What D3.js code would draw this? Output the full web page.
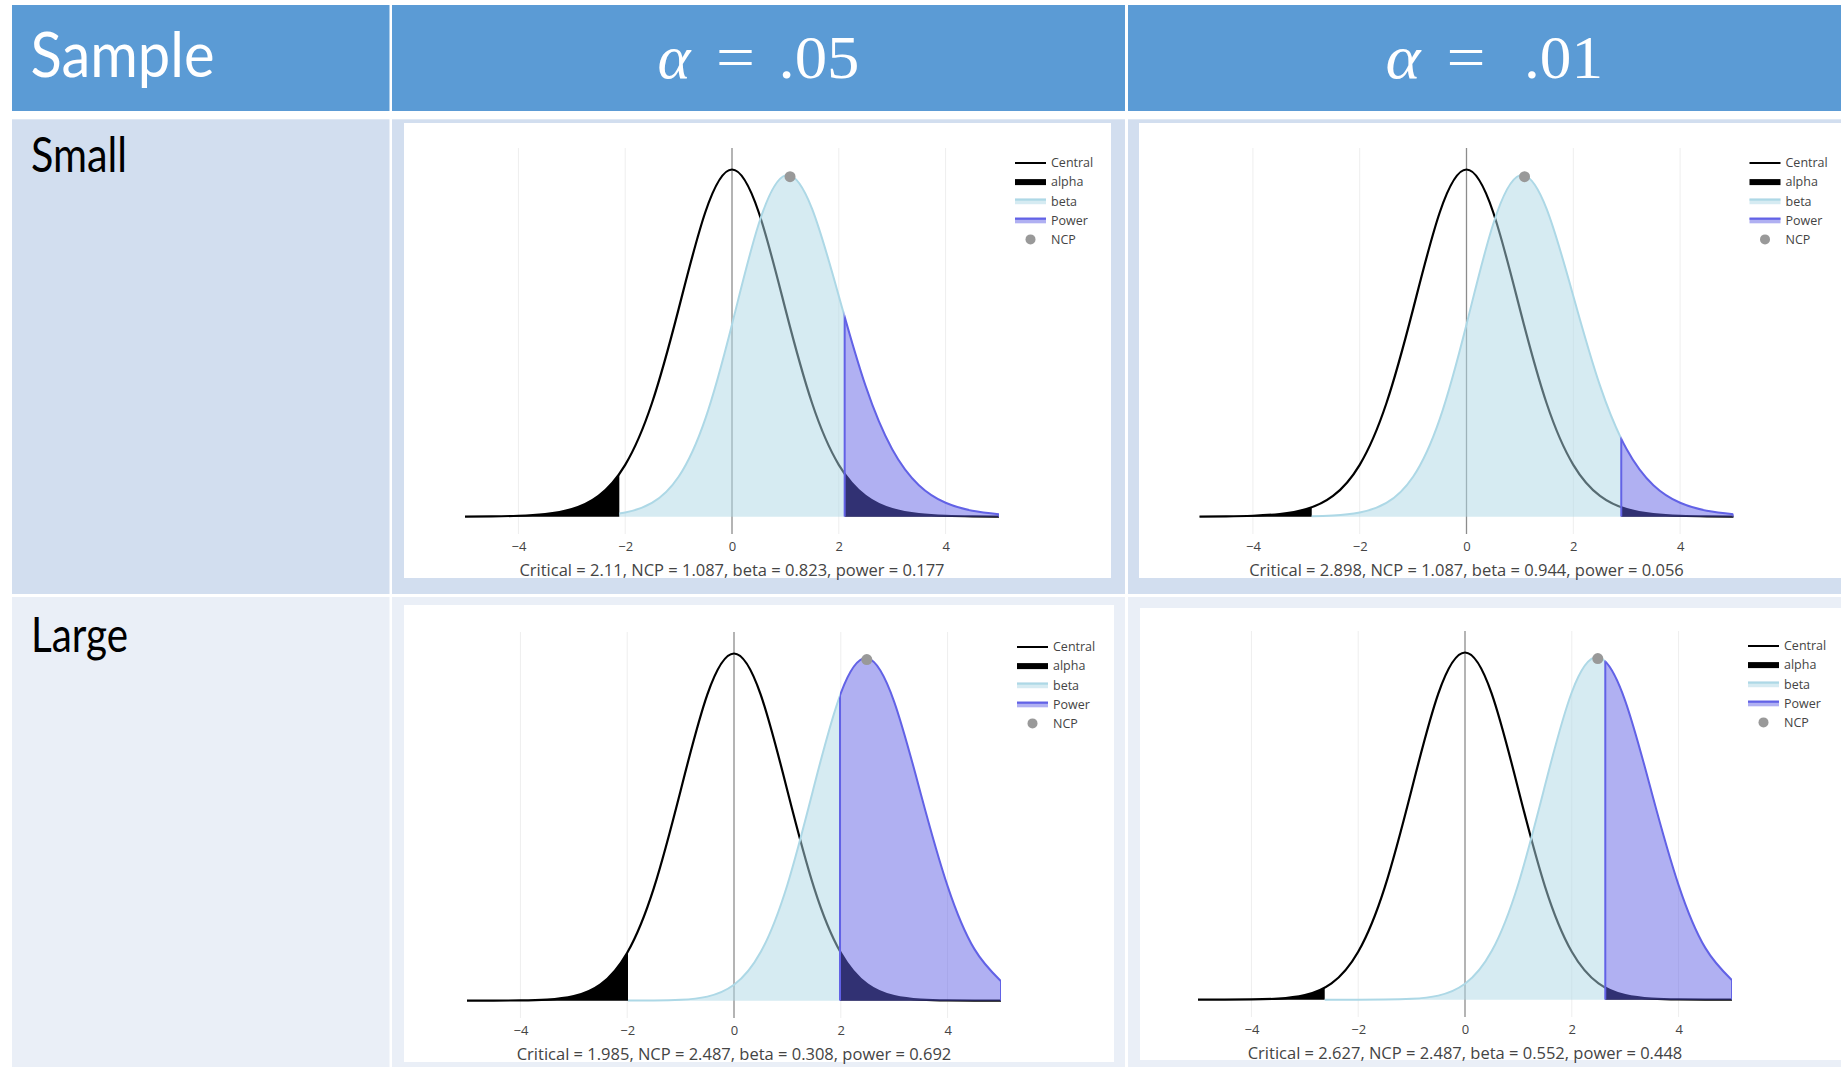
<!DOCTYPE html>
<html>
<head>
<meta charset="utf-8">
<script src="https://cdn.jsdelivr.net/npm/d3@7"></script>
<style>
  html, body { margin: 0; padding: 0; background: #fff; }
  svg { display: block; }
</style>
</head>
<body>
<div id="slide"></div>
<script>
// values (t statistic on x, density on y)

var tGrid = [-5, -4.5, -4, -3.5, -3, -2.5, -2, -1.5, -1, -0.5, 0,
             0.5, 1, 1.5, 2, 2.5, 3, 3.5, 4, 4.5, 5]

// small sample (top row)
var centralSmall = [0.00011, 0.00034, 0.00100, 0.00298, 0.00859, 0.0235, 0.0587, 0.1284, 0.2350, 0.3447, 0.3931,
                    0.3447, 0.2350, 0.1284, 0.0587, 0.0235, 0.00859, 0.00298, 0.00100, 0.00034, 0.00011]
var noncentralSmall = [0, 0.00001, 0.00004, 0.00012, 0.00039, 0.00137, 0.00475, 0.01554, 0.04524, 0.1108, 0.2177,
                       0.3314, 0.3865, 0.3485, 0.2499, 0.1483, 0.0763, 0.0356, 0.0157, 0.0067, 0.0028]

// large sample (bottom row)
var centralLarge = [0.00001, 0.00004, 0.00022, 0.00117, 0.00514, 0.0186, 0.0548, 0.1290, 0.2401, 0.3499, 0.3969,
                    0.3499, 0.2401, 0.1290, 0.0548, 0.0186, 0.00514, 0.00117, 0.00022, 0.00004, 0.00001]
var noncentralLarge = [0, 0, 0, 0, 0, 0, 0.00002, 0.00015, 0.00093, 0.0046, 0.0181,
                       0.0555, 0.1326, 0.2454, 0.3515, 0.3915, 0.3417, 0.2361, 0.1310, 0.0592, 0.0222]

var sampleLabels = ['Small', 'Large']
var alphaLabels = ['.05', '.01']
var criticals = [[2.11, 2.898], [1.985, 2.627]]   // [row][col]
var ncps = [1.087, 2.487]
var ncpHeights = [0.385, 0.39]
var betas = [[0.823, 0.944], [0.308, 0.552]]
var powers = [[0.177, 0.056], [0.692, 0.448]]
var xTicks = [-4, -2, 0, 2, 4]
var legendLabels = ['Central', 'alpha', 'beta', 'Power', 'NCP']

var W = 1841, H = 1067

var svg = d3.select('#slide')
  .append('svg')
  .attr('width', W)
  .attr('height', H)

// ---- the powerpoint table behind the plots ----
var cols = [[12, 389.5], [392, 1125], [1128, 1841]]
var rows = [
  {y0: 5, y1: 111, fill: '#5B9BD5'},
  {y0: 119.3, y1: 594, fill: '#D2DEEF'},
  {y0: 597, y1: 1067, fill: '#EAEFF7'}
]

rows.forEach(function (r) {
  svg.selectAll(null)
    .data(cols)
    .enter()
    .append('rect')
    .attr('x', function (c) { return c[0] })
    .attr('y', r.y0)
    .attr('width', function (c) { return c[1] - c[0] })
    .attr('height', r.y1 - r.y0)
    .attr('fill', r.fill)
})

// header texts
svg.append('text')
  .attr('x', 30.5).attr('y', 76.5)
  .attr('font-family', 'Lato, sans-serif')
  .attr('font-size', 62)
  .attr('fill', '#fff')
  .attr('textLength', 184)
  .attr('lengthAdjust', 'spacingAndGlyphs')
  .text('Sample')

// alpha headers, pieces placed like the equation object
var alphaPieces = [
  [{t: 'α', x: 657.5, w: 33, it: true}, {t: '=', x: 716, w: 39}, {t: alphaLabels[0], x: 778.5, w: 81}],
  [{t: 'α', x: 1385.5, w: 35, it: true}, {t: '=', x: 1446.5, w: 39}, {t: alphaLabels[1], x: 1524, w: 79}]
]
alphaPieces.forEach(function (pieces) {
  pieces.forEach(function (pc) {
    svg.append('text')
      .attr('x', pc.x).attr('y', 77.5)
      .attr('font-family', '"Liberation Serif", "DejaVu Serif", serif')
      .attr('font-style', pc.it ? 'italic' : 'normal')
      .attr('font-size', 62)
      .attr('fill', '#fff')
      .attr('textLength', pc.w)
      .attr('lengthAdjust', 'spacingAndGlyphs')
      .text(pc.t)
  })
})

// row labels
var rowLabelY = [171.7, 651.7]
sampleLabels.forEach(function (lab, i) {
  svg.append('text')
    .attr('x', 31).attr('y', rowLabelY[i])
    .attr('font-family', 'Lato, sans-serif')
    .attr('font-size', 48)
    .attr('fill', '#000')
    .attr('textLength', i === 0 ? 96 : 97)
    .attr('lengthAdjust', 'spacingAndGlyphs')
    .text(lab)
})

// ---- the four plot images ----
var panels = [
  {row: 0, col: 0, img: [404, 123, 707, 455], plotLeft: 465, plotTop: 148},
  {row: 0, col: 1, img: [1139, 123, 710, 455], plotLeft: 1199.5, plotTop: 148},
  {row: 1, col: 0, img: [404, 605, 710, 457], plotLeft: 467, plotTop: 632},
  {row: 1, col: 1, img: [1140, 608, 710, 452], plotLeft: 1198, plotTop: 631}
]
var plotW = 534, plotH = 386

var textFont = '"Open Sans", sans-serif'
var betaColor = 'lightblue'
var powerColor = '#6262e6'

panels.forEach(function (p, i) {
  var r = p.row, c = p.col
  var central = r === 0 ? centralSmall : centralLarge
  var nc = r === 0 ? noncentralSmall : noncentralLarge
  var crit = criticals[r][c]
  var id = 'pn' + i

  var g = svg.append('g')

  g.append('rect')
    .attr('x', p.img[0]).attr('y', p.img[1])
    .attr('width', p.img[2]).attr('height', p.img[3])
    .attr('fill', '#fff')

  var ymax = d3.max(central.concat(nc))
  var x = d3.scaleLinear().domain([-5, 5]).range([p.plotLeft, p.plotLeft + plotW])
  var y = d3.scaleLinear().domain([-0.05 * ymax, 1.062 * ymax]).range([p.plotTop + plotH, p.plotTop])

  var area = d3.area()
    .x(function (d, j) { return x(tGrid[j]) })
    .y0(y(0))
    .y1(function (d) { return y(Math.max(d, 0)) })
    .curve(d3.curveNatural)

  var line = d3.line()
    .x(function (d, j) { return x(tGrid[j]) })
    .y(function (d) { return y(d) })
    .curve(d3.curveNatural)

  // clip regions: both tails, the middle, the right side, and under the shifted curve
  var defs = g.append('defs')
  var tails = defs.append('clipPath').attr('id', id + 'tails')
  tails.append('rect')
    .attr('x', x(-5) - 3).attr('y', p.plotTop - 5)
    .attr('width', x(-crit) - x(-5) + 3).attr('height', plotH + 10)
  tails.append('rect')
    .attr('x', x(crit)).attr('y', p.plotTop - 5)
    .attr('width', x(5) - x(crit) + 3).attr('height', plotH + 10)
  defs.append('clipPath').attr('id', id + 'mid')
    .append('rect')
    .attr('x', x(-crit)).attr('y', p.plotTop - 5)
    .attr('width', x(crit) - x(-crit)).attr('height', plotH + 10)
  defs.append('clipPath').attr('id', id + 'right')
    .append('rect')
    .attr('x', x(crit)).attr('y', p.plotTop - 5)
    .attr('width', x(5) - x(crit)).attr('height', plotH + 10)
  defs.append('clipPath').attr('id', id + 'under')
    .append('path')
    .attr('d', area(nc))

  // grid
  g.selectAll('.grid')
    .data(xTicks.filter(function (t) { return t !== 0 }))
    .enter()
    .append('line')
    .attr('x1', function (t) { return x(t) })
    .attr('x2', function (t) { return x(t) })
    .attr('y1', p.plotTop)
    .attr('y2', p.plotTop + plotH)
    .attr('stroke', '#eeeeee')
    .attr('stroke-width', 1)

  // zero line
  g.append('line')
    .attr('x1', x(0)).attr('x2', x(0))
    .attr('y1', p.plotTop).attr('y2', p.plotTop + plotH)
    .attr('stroke', '#8c8c8c')
    .attr('stroke-width', 1.3)

  // central distribution
  g.append('path')
    .attr('d', line(central))
    .attr('fill', 'none')
    .attr('stroke', '#000')
    .attr('stroke-width', 2.2)

  // alpha (both tails)
  g.append('path')
    .attr('d', area(central))
    .attr('fill', '#000')
    .attr('clip-path', 'url(#' + id + 'tails)')

  // beta
  g.append('path')
    .attr('d', area(nc))
    .attr('fill', betaColor)
    .attr('fill-opacity', 0.5)
    .attr('clip-path', 'url(#' + id + 'mid)')
  g.append('path')
    .attr('d', line(nc))
    .attr('fill', 'none')
    .attr('stroke', betaColor)
    .attr('stroke-width', 2)
    .attr('clip-path', 'url(#' + id + 'mid)')

  // power
  g.append('path')
    .attr('d', area(nc))
    .attr('fill', powerColor)
    .attr('fill-opacity', 0.5)
    .attr('clip-path', 'url(#' + id + 'right)')
  g.append('path')
    .attr('d', line(nc))
    .attr('fill', 'none')
    .attr('stroke', powerColor)
    .attr('stroke-width', 2)
    .attr('clip-path', 'url(#' + id + 'right)')
  g.selectAll('.edge')
    .data([crit, 5])
    .enter()
    .append('line')
    .attr('x1', function (t) { return x(t) })
    .attr('x2', function (t) { return x(t) })
    .attr('y1', y(0))
    .attr('y2', p.plotTop)
    .attr('stroke', powerColor)
    .attr('stroke-width', 2)
    .attr('clip-path', 'url(#' + id + 'under)')

  // NCP marker
  g.append('circle')
    .attr('cx', x(ncps[r]))
    .attr('cy', y(ncpHeights[r]))
    .attr('r', 5.5)
    .attr('fill', '#999')

  // x axis labels
  var axis = d3.axisBottom(x)
    .tickValues(xTicks)
    .tickSize(0)
    .tickPadding(8)
  var ax = g.append('g')
    .attr('transform', 'translate(0,' + (p.plotTop + plotH) + ')')
    .call(axis)
  ax.select('.domain').remove()
  ax.selectAll('text')
    .attr('font-family', textFont)
    .attr('font-size', 13)
    .attr('fill', '#444')

  // axis title
  g.append('text')
    .attr('x', x(0))
    .attr('y', p.plotTop + 428)
    .attr('text-anchor', 'middle')
    .attr('font-family', textFont)
    .attr('font-size', 16.5)
    .attr('fill', '#444')
    .text('Critical = ' + crit + ', NCP = ' + ncps[r] + ', beta = ' + betas[r][c] + ', power = ' + powers[r][c])

  // legend
  var lx = x(5) + 16
  var leg = g.selectAll('.leg')
    .data(legendLabels)
    .enter()
    .append('g')
    .attr('transform', function (d, k) { return 'translate(' + lx + ',' + (p.plotTop + 15 + k * 19.1) + ')' })

  leg.each(function (d, k) {
    var s = d3.select(this)
    if (k === 0) {
      s.append('line').attr('x1', 0).attr('x2', 31).attr('stroke', '#000').attr('stroke-width', 2)
    } else if (k === 1) {
      s.append('rect').attr('x', 0).attr('y', -3).attr('width', 31).attr('height', 6).attr('fill', '#000')
    } else if (k === 2 || k === 3) {
      var col = k === 2 ? betaColor : powerColor
      s.append('rect').attr('x', 0).attr('y', -3).attr('width', 31).attr('height', 6)
        .attr('fill', col).attr('fill-opacity', 0.5)
      s.append('line').attr('x1', 0).attr('x2', 31).attr('y1', -1.5).attr('y2', -1.5)
        .attr('stroke', col).attr('stroke-width', 2)
    } else {
      s.append('circle').attr('cx', 15.5).attr('cy', 0).attr('r', 5).attr('fill', '#999')
    }
    s.append('text')
      .attr('x', 36)
      .attr('dy', '0.35em')
      .attr('font-family', textFont)
      .attr('font-size', 12.5)
      .attr('fill', '#444')
      .text(d)
  })
})
</script>
</body>
</html>
